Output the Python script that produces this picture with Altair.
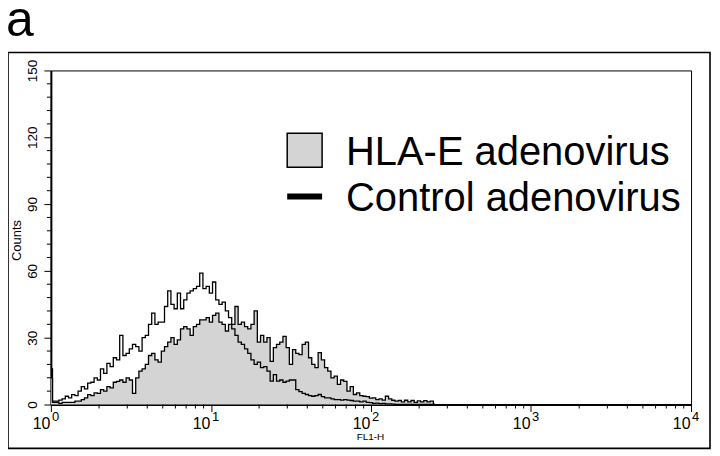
import altair as alt
import pandas as pd

# FL1-H histogram channels: log10 position step of the binned channels
log_step = 0.02

control_counts = [
    16, 1.5, 1.5, 2, 2.5, 3.7, 3, 4.4, 4, 6,
    8, 7, 9.6, 10, 12, 11, 16, 14, 18.5, 17,
    21, 20, 31, 22, 23, 25, 27, 26, 24, 30,
    31, 36, 41, 36, 37, 37, 44, 51, 45, 43,
    50, 43, 47, 50, 51, 52, 53, 59, 52, 53,
    50, 55, 47, 45, 46, 42, 39, 34, 31, 28,
    27, 25, 23, 20, 18, 19, 16.6, 17, 15, 10.5,
    13.4, 10.5, 11, 10, 10.5, 11, 11, 6.7, 5.8, 5,
    4.5, 4, 3.7, 4, 4.5, 3.5, 3, 3, 2.5, 2.2,
    2.2, 2, 2.2, 2, 1.8, 1.5, 1.5, 1.2, 1.5, 1,
    0.8, 0.5, 0.6, 0.4, 0.5, 0.3, 0.3, 0.2, 0.1, 0,
    0, 0, 0, 0, 0, 0, 0, 0, 0, 0, 0,
]

hla_e_counts = [
    12, 1, 1, 0.5, 1, 1, 1, 1, 1.5, 1.5,
    2.2, 3, 4.4, 4, 5.2, 5, 6.7, 6, 8, 7.5,
    10, 10.4, 11, 10, 12, 11, 5, 12, 15, 16,
    18, 22, 23, 20, 19, 24, 26, 28, 30, 27,
    29, 34, 35, 34, 31, 35, 36, 38, 38, 39,
    37, 40, 41, 37, 36, 33, 36, 36, 44, 36,
    37, 35, 34, 36, 42, 28, 31, 28, 30, 19.4,
    25.5, 27, 28, 30.6, 25.5, 18, 24.6, 23, 22.4, 27,
    28, 21, 18, 16.6, 23.3, 20, 16.6, 15, 12, 12.7,
    9, 11, 10.4, 6, 8, 4.5, 5.2, 4, 3.7, 3.5,
    2.9, 3, 2.2, 2.5, 2, 3.7, 2.5, 1.9, 1.5, 1.8,
    1.2, 1.9, 1.2, 1.8, 1, 1.6, 1.2, 1.7, 1.2, 1.5, 0,
]

series_names = ["HLA-E adenovirus", "Control adenovirus"]
panel_label = "a"
x_title = "FL1-H"
y_title = "Counts"

x_major = [1, 10, 100, 1000, 10000]
x_exponents = ["0", "1", "2", "3", "4"]
x_minor = [m * 10 ** k for k in range(4) for m in range(2, 10)]
y_major = [0, 30, 60, 90, 120, 150]
y_minor = [v for v in range(0, 151, 6) if v % 30 != 0]

fl1 = [10 ** (i * log_step) for i in range(len(control_counts))]
df_ctrl = pd.DataFrame({"fl1": fl1, "count": control_counts})
df_hla = pd.DataFrame({"fl1": fl1, "count": hla_e_counts})
df_exp = pd.DataFrame({"v": x_major, "e": x_exponents})

W, H = 642, 335
FONT = "Liberation Sans"
NARROW = "Liberation Sans Narrow, Liberation Sans"

x_scale = alt.Scale(type="log", domain=[1, 10000], nice=False)
y_scale = alt.Scale(domain=[0, 150], nice=False)

x_axis = alt.Axis(
    values=x_major,
    labelExpr="'10'",
    labelAlign="right",
    labelOffset=-1,
    tickSize=7,
    labelFontSize=16,
    labelPadding=4,
    labelFont=NARROW,
    labelColor="black",
    title=x_title,
    titleFont=FONT,
    titleFontSize=10,
    titleFontWeight="normal",
    titleColor="black",
    titleX=320,
    titleY=35,
    titleAlign="center",
    titleBaseline="alphabetic",
    domainWidth=2,
    domainColor="black",
    tickColor="black",
    tickWidth=1,
    grid=False,
    labelFlush=False,
    labelOverlap=False,
)

y_axis = alt.Axis(
    values=y_major,
    tickSize=7,
    labelAngle=270,
    labelAlign="center",
    labelBaseline="bottom",
    labelFontSize=13.5,
    labelPadding=4,
    labelFont=FONT,
    labelColor="black",
    title=y_title,
    titleFont=FONT,
    titleFontSize=13,
    titleFontWeight="normal",
    titleColor="black",
    titleAngle=270,
    titleAlign="center",
    titleBaseline="middle",
    titleX=-34,
    titleY=170,
    domainWidth=2,
    domainColor="black",
    tickColor="black",
    tickWidth=1,
    grid=False,
    labelFlush=False,
    labelOverlap=False,
)

hla_area = alt.Chart(df_hla).mark_area(
    interpolate="step", color="#d4d4d4", opacity=1
).encode(
    x=alt.X("fl1:Q", scale=x_scale, axis=x_axis),
    y=alt.Y("count:Q", scale=y_scale, axis=y_axis),
)

hla_line = alt.Chart(df_hla).mark_line(
    interpolate="step", color="black", strokeWidth=1.3
).encode(x=alt.X("fl1:Q", scale=x_scale), y=alt.Y("count:Q", scale=y_scale))

ctrl_line = alt.Chart(df_ctrl).mark_line(
    interpolate="step", color="black", strokeWidth=1.3
).encode(x=alt.X("fl1:Q", scale=x_scale), y=alt.Y("count:Q", scale=y_scale))

x_minor_ticks = alt.Chart(pd.DataFrame({"v": x_minor})).mark_rule(
    color="black", strokeWidth=1
).encode(x=alt.X("v:Q", scale=x_scale), y=alt.value(H), y2=alt.value(H + 4))

y_minor_ticks = alt.Chart(pd.DataFrame({"v": y_minor})).mark_rule(
    color="black", strokeWidth=1
).encode(y=alt.Y("v:Q", scale=y_scale), x=alt.value(-4), x2=alt.value(0))

x_exp_text = alt.Chart(df_exp).mark_text(
    font=NARROW, fontSize=13, align="left", baseline="alphabetic", color="black", dx=1
).encode(x=alt.X("v:Q", scale=x_scale), y=alt.value(H + 17), text="e:N")

one = alt.Data(values=[{}])

frame = alt.Chart(one).mark_rect(
    fill=None, stroke="black", strokeWidth=1.6
).encode(x=alt.value(-43), x2=alt.value(661), y=alt.value(-18), y2=alt.value(379))

label_a = alt.Chart(alt.Data(values=[{"t": panel_label}])).mark_text(
    font=FONT, fontSize=50, align="left", baseline="alphabetic", color="black"
).encode(text="t:N", x=alt.value(-45), y=alt.value(-35))

leg_box = alt.Chart(one).mark_rect(
    fill="#d4d4d4", stroke="black", strokeWidth=1.5
).encode(x=alt.value(237), x2=alt.value(272), y=alt.value(63), y2=alt.value(97))

leg_line = alt.Chart(one).mark_rule(
    color="black", strokeWidth=6
).encode(x=alt.value(237), x2=alt.value(272), y=alt.value(126.5))

leg_text1 = alt.Chart(alt.Data(values=[{"t": series_names[0]}])).mark_text(
    font=FONT, fontSize=40, align="left", baseline="alphabetic", color="black"
).encode(text="t:N", x=alt.value(296), y=alt.value(95))

leg_text2 = alt.Chart(alt.Data(values=[{"t": series_names[1]}])).mark_text(
    font=FONT, fontSize=40, align="left", baseline="alphabetic", color="black"
).encode(text="t:N", x=alt.value(296), y=alt.value(141))

chart = alt.layer(
    hla_area, hla_line, ctrl_line, x_minor_ticks, y_minor_ticks, x_exp_text,
    frame, label_a, leg_box, leg_line, leg_text1, leg_text2
).properties(
    width=W,
    height=H,
    autosize=alt.AutoSizeParams(type="none"),
    padding={"left": 43, "top": 62, "right": 21, "bottom": 46},
).configure(
    background="white",
    view=alt.ViewConfig(stroke="black", strokeWidth=1),
)

chart.save("out.html", embed_options={"renderer": "svg", "actions": False})
